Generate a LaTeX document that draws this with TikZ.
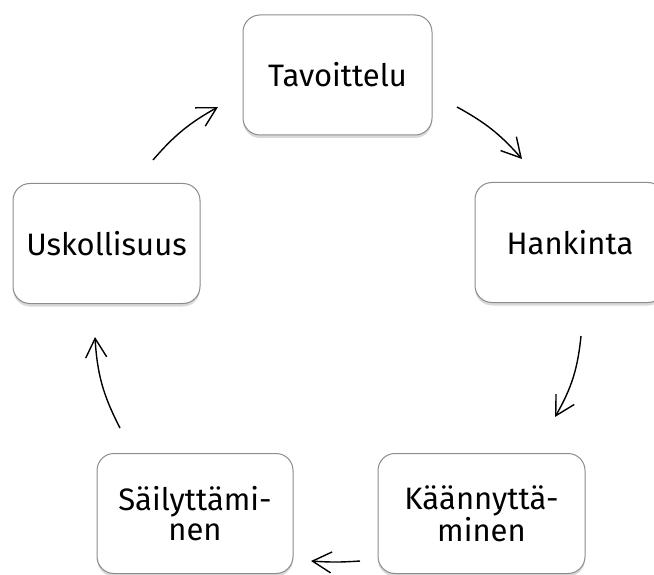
\documentclass[tikz,border=0pt]{standalone}
\usepackage{fontspec}
\setmainfont{Fira Sans}
\usetikzlibrary{arrows.meta,shadows}
\definecolor{boxline}{RGB}{140,140,140}

\begin{document}
\begin{tikzpicture}[x=1pt, y=-1pt,
        box/.style={draw=boxline, line width=1pt, fill=white, rounded corners=17pt, minimum height=120pt, inner sep=0pt, align=center, font=\fontsize{31}{30}\selectfont, drop shadow={shadow xshift=0pt, shadow yshift=-3pt, opacity=0.3}},
        cyc/.style={-{Straight Barb[length=19pt,width=21pt]}, line width=1.4pt}]
        \path[use as bounding box, clip] (0,0) rectangle (654,575);

        \node[box, minimum width=189pt] (tav) at (337.5,75) {Tavoittelu};
        \node[box, minimum width=190pt] (han) at (570,242.5) {Hankinta};
        \node[box, minimum width=207pt] (kaa) at (481.5,513.5) {Käännyttä-\\minen};
        \node[box, minimum width=196pt] (sai) at (195,513.5) {Säilyttämi-\\nen};
        \node[box, minimum width=187pt] (usk) at (106.5,243.5) {Uskollisuus};

        \coordinate (p1) at (153,160);
        \coordinate (q1) at (218,107);
        \coordinate (p2) at (457,107);
        \coordinate (q2) at (522,159);
        \coordinate (p3) at (581,336);
        \coordinate (q3) at (555,417);
        \coordinate (p4) at (360,561);
        \coordinate (q4) at (311,561);
        \coordinate (p5) at (120,428);
        \coordinate (q5) at (95,337);

        \draw[cyc] (p1) to[bend left=10] (q1);
        \draw[cyc] (p2) to[bend left=10] (q2);
        \draw[cyc] (p3) to[bend left=12] (q3);
        \draw[cyc] (p4) to[bend left=4] (q4);
        \draw[cyc] (p5) to[bend left=12] (q5);
\end{tikzpicture}
\end{document}
